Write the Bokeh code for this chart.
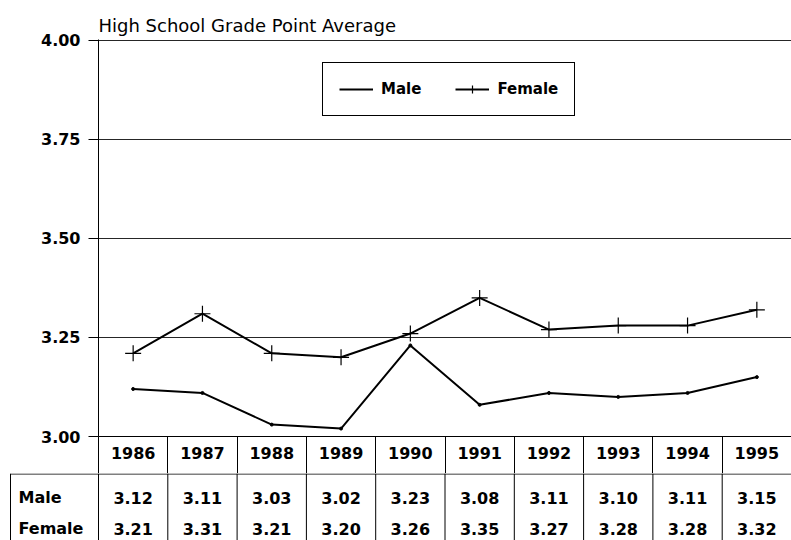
from bokeh.plotting import figure
from bokeh.models import (Range1d, FixedTicker, NumeralTickFormatter, Legend, LegendItem)
from bokeh.core.properties import value
from bokeh.embed import file_html
from bokeh.resources import INLINE

# ---- data ----
years = ["1986", "1987", "1988", "1989", "1990", "1991", "1992", "1993", "1994", "1995"]
male = [3.12, 3.11, 3.03, 3.02, 3.23, 3.08, 3.11, 3.10, 3.11, 3.15]
female = [3.21, 3.31, 3.21, 3.20, 3.26, 3.35, 3.27, 3.28, 3.28, 3.32]
y_ticks = [3.00, 3.25, 3.50, 3.75, 4.00]
row_labels = ["Male", "Female"]
title_text = "High School Grade Point Average"

FONT = "DejaVu Sans"
n = len(years)
xs = [i + 0.5 for i in range(n)]
bounds = list(range(n + 1))

W = 791
LEFT = 98
unit = (W - LEFT) / n

# ---- chart (with the year header row as its x axis) ----
p = figure(width=W, height=473, x_range=Range1d(0, n), y_range=Range1d(3.0, 4.0025),
           output_backend="svg", toolbar_location=None,
           min_border_left=LEFT, min_border_right=0, min_border_top=39, min_border_bottom=37)
p.outline_line_color = None
p.xgrid.visible = False
p.title.text = title_text
p.title.text_font = FONT
p.title.text_font_size = "18px"
p.title.text_font_style = "normal"
p.title.text_color = "black"
p.title.align = "left"
p.title.standoff = 7

p.yaxis.ticker = FixedTicker(ticks=y_ticks)
p.yaxis.formatter = NumeralTickFormatter(format="0.00")
p.yaxis.major_label_text_font = FONT
p.yaxis.major_label_text_font_style = "bold"
p.yaxis.major_label_text_font_size = "16px"
p.yaxis.major_label_text_color = "black"
p.yaxis.major_tick_out = 10
p.yaxis.major_tick_in = 0
p.yaxis.minor_tick_line_color = None
p.yaxis.axis_line_color = "black"
p.yaxis.major_tick_line_color = "black"
p.yaxis.major_label_standoff = 8

xa = p.xaxis[0]
xa.ticker = FixedTicker(ticks=xs, minor_ticks=bounds)
xa.major_label_overrides = {x: y for x, y in zip(xs, years)}
xa.major_tick_line_color = None
xa.major_tick_out = 0
xa.major_tick_in = 0
xa.minor_tick_line_color = "black"
xa.minor_tick_out = 37
xa.minor_tick_in = 0
xa.axis_line_color = "black"
xa.major_label_standoff = -27
xa.major_label_text_font = FONT
xa.major_label_text_font_style = "bold"
xa.major_label_text_font_size = "16px"
xa.major_label_text_color = "black"

p.ygrid.ticker = FixedTicker(ticks=y_ticks)
p.ygrid.grid_line_color = "black"
p.ygrid.grid_line_alpha = 0.85
p.ygrid.grid_line_width = 1

ml = p.line(xs, male, line_color="black", line_width=2)
ms = p.scatter(xs, male, marker="circle", size=3, color="black")
fl = p.line(xs, female, line_color="black", line_width=2)
fs = p.scatter(xs, female, marker="cross", size=16, line_color="black", line_width=1.2)

legend = Legend(items=[LegendItem(label=row_labels[0], renderers=[ml]),
                       LegendItem(label=row_labels[1], renderers=[fl, fs])],
                orientation="horizontal", location=(224, 320),
                border_line_color="black", border_line_width=1, border_line_alpha=1,
                background_fill_color="white", background_fill_alpha=1,
                label_text_font=FONT, label_text_font_style="bold", label_text_color="black",
                label_text_font_size="15px", glyph_width=34, glyph_height=20,
                padding=16, spacing=34, label_standoff=8, margin=0)
p.add_layout(legend)

# ---- table rows (Male / Female) ----
TH = 67
x0 = -LEFT / unit
t = figure(width=W, height=TH, x_range=Range1d(x0, n), y_range=Range1d(TH, 0),
           output_backend="svg", toolbar_location=None,
           x_axis_location=None, y_axis_location=None,
           min_border_left=0, min_border_right=0, min_border_top=0, min_border_bottom=0)
t.outline_line_color = None
t.grid.visible = False

row_y = [24, 55]
label_left = x0 + 10 / unit

t.segment(x0=bounds, y0=[0] * (n + 1), x1=bounds, y1=[TH] * (n + 1),
          line_color="black", line_width=1)
t.segment(x0=[label_left], y0=[0], x1=[label_left], y1=[TH], line_color="black", line_width=1)
t.segment(x0=[label_left], y0=[0.5], x1=[n], y1=[0.5], line_color="black", line_width=1)

txt = dict(text_font=value(FONT), text_font_style="bold", text_font_size="16px",
           text_color="black", text_baseline="middle")
t.text(x=xs, y=[row_y[0]] * n, text=["%.2f" % v for v in male], text_align="center", **txt)
t.text(x=xs, y=[row_y[1]] * n, text=["%.2f" % v for v in female], text_align="center", **txt)
t.text(x=[label_left + 8 / unit] * 2, y=row_y, text=row_labels, text_align="left", **txt)

open("out.html", "w").write(file_html([p, t], INLINE))
